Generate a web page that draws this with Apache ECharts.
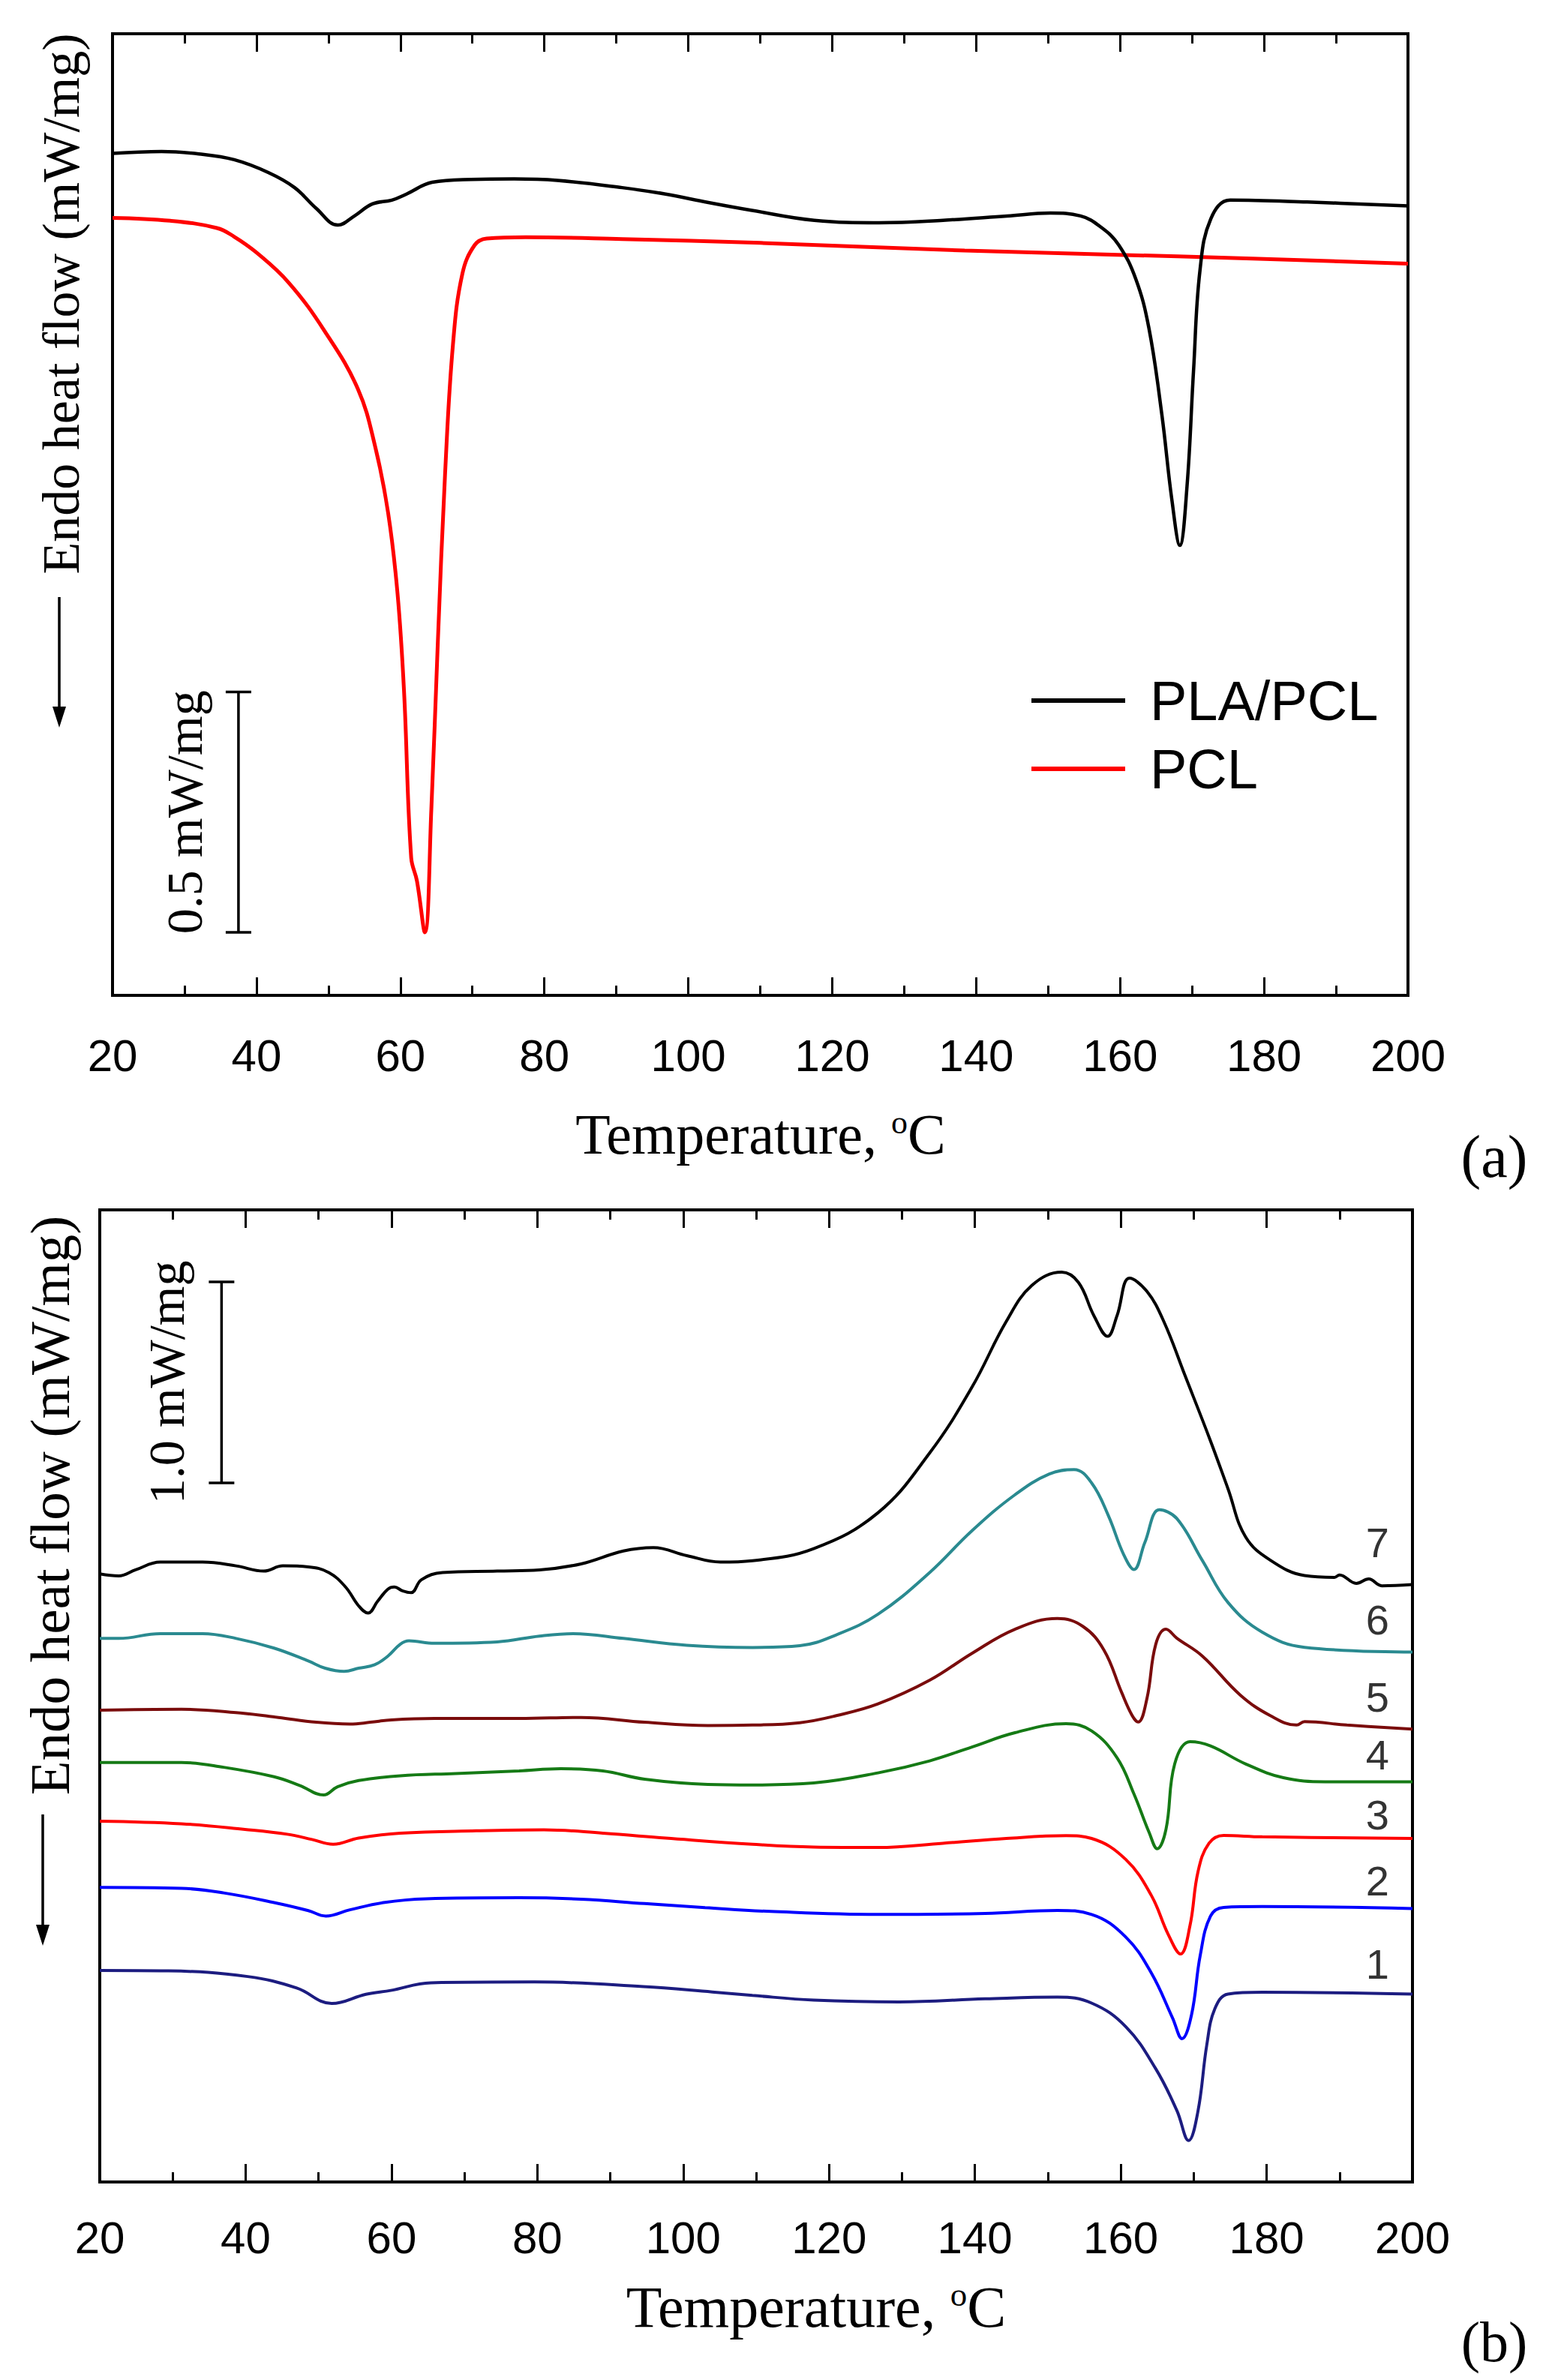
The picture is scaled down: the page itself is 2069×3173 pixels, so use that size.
<!DOCTYPE html>
<html>
<head>
<meta charset="utf-8">
<title>DSC curves</title>
<script src="https://cdn.jsdelivr.net/npm/echarts@6.0.0/dist/echarts.min.js"></script>
<style>
    html, body {margin: 0; padding: 0; background: #fff;}
    #chart {width: 2069px; height: 3173px;}
</style>
</head>
<body>
<div id="chart"></div>
<script>
// temperature axis
const tempMin = 20;
const tempMax = 200;
const tempStep = 20;

// panel (a): heat flow in mW/mg (offset baseline)
const plaPclTemp = [20, 26.8, 32, 36.9, 41.7, 45.3, 48.3, 51.3, 53.7, 56.1, 58.8, 60.9, 64.4, 69.8, 75.8, 81.8, 90.8, 96.7, 102.8, 108.7,
    117.5, 126.5, 135.4, 144.3, 150.3, 154.5, 157.4, 159.8, 162.2, 164, 165.8, 167.2, 168.3, 169.3, 170.2, 171.1, 172.6, 175.3, 186, 200];
const plaPclFlow = [1.751, 1.755, 1.750, 1.738, 1.711, 1.680, 1.637, 1.602, 1.622, 1.646, 1.654, 1.667, 1.691, 1.697, 1.698, 1.695, 1.680, 1.667, 1.649, 1.633,
    1.612, 1.607, 1.612, 1.621, 1.627, 1.621, 1.597, 1.561, 1.489, 1.388, 1.208, 1.030, 0.936, 1.059, 1.298, 1.508, 1.615, 1.654, 1.650, 1.642];

const pclTemp = [20, 28, 34.5, 36.9, 40, 44.5, 49.5, 54.1, 56.5, 58.3, 59.6, 60.5, 61.5, 62.3, 63.4, 64.3, 65.2, 66.2, 67.3, 68.6,
    70.3, 72, 77.4, 90.8, 110, 138.4, 168, 200];
const pclFlow = [1.617, 1.611, 1.596, 1.578, 1.545, 1.482, 1.381, 1.261, 1.141, 1.003, 0.836, 0.634, 0.286, 0.238, 0.131, 0.387, 0.734, 1.082, 1.353, 1.500,
    1.560, 1.574, 1.577, 1.573, 1.565, 1.549, 1.537, 1.522];

const namesA = ['PLA/PCL', 'PCL'];
const scaleBarA = [37.5, 0.131, 0.631];   // 0.5 mW/mg

// panel (b): curves 1..7
const b1Temp = [20, 29.4, 40.3, 47, 51.8, 56.5, 59.9, 65.4, 79.6, 94.5, 104, 109.5, 117.9, 129.6, 141.4, 151.3, 156, 160.7, 164.8, 167.7,
    169.3, 170.6, 171.8, 172.9, 174.7, 179.4, 200];
const b1Flow = [1.052, 1.050, 1.022, 0.965, 0.888, 0.934, 0.953, 0.991, 0.995, 0.972, 0.945, 0.928, 0.905, 0.896, 0.911, 0.920, 0.890, 0.772, 0.563, 0.355,
    0.206, 0.355, 0.683, 0.862, 0.935, 0.944, 0.935];

const b2Temp = [20, 31.2, 37, 43.9, 48.6, 51, 54.3, 58.9, 64.7, 77.5, 86, 94.7, 103, 112, 126.7, 141.4, 151.3, 156, 160.7, 164.2, 167.1,
    168.4, 169.7, 170.9, 172.3, 174.1, 179.4, 200];
const b2Flow = [1.466, 1.461, 1.438, 1.390, 1.350, 1.323, 1.354, 1.390, 1.409, 1.414, 1.407, 1.385, 1.365, 1.346, 1.331, 1.336, 1.351, 1.331, 1.218, 1.039, 0.816,
    0.713, 0.831, 1.128, 1.322, 1.366, 1.370, 1.360];

const b3Temp = [20, 31.2, 39.9, 45.7, 49.1, 52, 55.5, 61.2, 71.6, 80.9, 89, 97.6, 109.5, 117.9, 126.7, 135.6, 144.3, 152.5, 156, 160.7,
    164.2, 166.5, 168.2, 169.5, 170.6, 172.1, 174.1, 179.4, 200];
const b3Flow = [1.795, 1.782, 1.754, 1.730, 1.704, 1.680, 1.711, 1.735, 1.747, 1.752, 1.735, 1.711, 1.680, 1.666, 1.664, 1.685, 1.709, 1.723, 1.709, 1.604,
    1.425, 1.232, 1.134, 1.277, 1.545, 1.685, 1.724, 1.717, 1.709];

const b4Temp = [20, 31.2, 37, 43.9, 47.4, 50.7, 52.6, 55.5, 61.2, 68.8, 77.5, 83.2, 89, 94.7, 103.4, 109.5, 117.9, 126.7, 133.8, 139.6,
    145.5, 152.5, 156, 159.5, 161.8, 163.9, 165, 166.2, 167.4, 169.5, 172.3, 177.1, 182.3, 188, 200];
const b4Flow = [2.087, 2.087, 2.063, 2.016, 1.973, 1.925, 1.966, 1.997, 2.021, 2.032, 2.045, 2.056, 2.045, 2.004, 1.978, 1.975, 1.985, 2.035, 2.095, 2.164,
    2.235, 2.280, 2.244, 2.110, 1.931, 1.738, 1.658, 1.754, 2.080, 2.190, 2.169, 2.080, 2.011, 1.991, 1.991];

const b5Temp = [20, 31.2, 38.7, 44.5, 49.7, 54.3, 57.1, 60, 65.9, 77.5, 86, 94.7, 103.4, 109.5, 116, 121, 126.7, 133.8, 139.6, 145.5, 151.3,
    154.8, 157.7, 160.1, 161.6, 162.4, 163.6, 164.8, 166.2, 167.7, 171.2, 176.4, 180.6, 184.1, 185.2, 191, 200];
const b5Flow = [2.347, 2.352, 2.335, 2.311, 2.287, 2.278, 2.287, 2.299, 2.306, 2.306, 2.311, 2.287, 2.271, 2.273, 2.285, 2.320, 2.378, 2.496, 2.630, 2.750, 2.803,
    2.764, 2.646, 2.437, 2.318, 2.288, 2.407, 2.675, 2.750, 2.705, 2.616, 2.422, 2.318, 2.273, 2.290, 2.273, 2.253];

const b6Temp = [20, 22.6, 28.3, 34.1, 38.7, 43.9, 48.6, 50.9, 53.5, 55.5, 57.7, 59.5, 61.2, 62.4, 65.9, 74.5, 80.3, 84.9, 91.8, 100.5,
    109.5, 116, 121, 126.7, 133.8, 139.6, 145.5, 150.2, 153.6, 156, 158.3, 160.4, 161.8, 163.3, 165.3, 167.7, 171.2, 174.7, 179.4, 185.2, 200];
const b6Flow = [2.704, 2.704, 2.728, 2.728, 2.704, 2.656, 2.592, 2.556, 2.540, 2.556, 2.573, 2.616, 2.675, 2.692, 2.680, 2.687, 2.716, 2.728, 2.704, 2.670,
    2.659, 2.668, 2.722, 2.824, 3.032, 3.240, 3.419, 3.522, 3.544, 3.478, 3.315, 3.121, 3.047, 3.181, 3.344, 3.300, 3.091, 2.883, 2.735, 2.660, 2.636];

const b7Temp = [20, 22.6, 24.9, 28.3, 34.1, 38.7, 42.5, 45.1, 48.6, 51.4, 53.7, 55.5, 56.8, 58.1, 59.5, 60.4, 61.5, 62.7, 64.1, 67,
    74.5, 80.3, 86, 91.8, 95.9, 100.5, 105.1, 109.5, 117.9, 126.7, 133.8, 139.6, 144.3, 147.8, 151.9, 154.2, 156.3, 158.2, 159.5, 161.2,
    163.6, 165.9, 168.8, 172.3, 174.7, 177.1, 180.6, 185.2, 189.3, 190, 192.3, 194, 195.8, 200];
const b7Flow = [3.025, 3.015, 3.045, 3.084, 3.084, 3.065, 3.039, 3.065, 3.060, 3.032, 2.960, 2.866, 2.830, 2.889, 2.949, 2.960, 2.941, 2.932, 2.996, 3.032,
    3.039, 3.045, 3.075, 3.139, 3.156, 3.116, 3.084, 3.091, 3.151, 3.329, 3.627, 3.954, 4.281, 4.460, 4.526, 4.475, 4.311, 4.207, 4.311, 4.496,
    4.430, 4.281, 4.013, 3.687, 3.449, 3.210, 3.091, 3.017, 3.008, 3.020, 2.978, 3.000, 2.966, 2.972];

const namesB = ['1', '2', '3', '4', '5', '6', '7'];
const labelTempB = 195.2;
const labelFlowB = [1.084, 1.500, 1.828, 2.125, 2.414, 2.795, 3.182];
const scaleBarB = [36.7, 3.478, 4.478];   // 1.0 mW/mg

const tempsB = [b1Temp, b2Temp, b3Temp, b4Temp, b5Temp, b6Temp, b7Temp];
const flowsB = [b1Flow, b2Flow, b3Flow, b4Flow, b5Flow, b6Flow, b7Flow];

const colorsA = ['#000000', '#ff0000'];
const colorsB = ['#1c1c80', '#0000ff', '#ff0000', '#157a15', '#7a0c0c', '#2a8a90', '#000000'];

const serif = '"Liberation Serif", "DejaVu Serif", serif';
const sans = '"Liberation Sans", Arial, sans-serif';

const pair = (t, v) => t.map((x, i) => [x, v[i]]);

function xAxes(gridIndex, margin) {
    const common = {
        type: 'value', gridIndex: gridIndex, min: tempMin, max: tempMax, interval: tempStep,
        axisLine: {show: false},
        axisTick: {show: true, inside: true, length: 24, lineStyle: {color: '#000', width: 3}},
        minorTick: {show: true, splitNumber: 2, length: 13, lineStyle: {color: '#000', width: 3}},
        splitLine: {show: false}
    };
    return [
        Object.assign({}, common, {
            position: 'bottom',
            axisLabel: {show: true, margin: margin, fontSize: 60, fontFamily: sans, color: '#000'}
        }),
        Object.assign({}, common, {position: 'top', axisLabel: {show: false}})
    ];
}

function yAxis(gridIndex, max) {
    return {
        type: 'value', gridIndex: gridIndex, min: 0, max: max,
        axisLine: {show: false}, axisTick: {show: false}, axisLabel: {show: false}, splitLine: {show: false}
    };
}

function scaleBar(label, offset) {
    return function (params, api) {
        const lo = api.coord([api.value(0), api.value(1)]);
        const hi = api.coord([api.value(0), api.value(2)]);
        const cap = 17;
        const ls = {stroke: '#000', lineWidth: 3.5};
        return {
            type: 'group',
            children: [
                {type: 'line', shape: {x1: lo[0], y1: lo[1], x2: hi[0], y2: hi[1]}, style: ls},
                {type: 'line', shape: {x1: lo[0] - cap, y1: lo[1], x2: lo[0] + cap, y2: lo[1]}, style: ls},
                {type: 'line', shape: {x1: hi[0] - cap, y1: hi[1], x2: hi[0] + cap, y2: hi[1]}, style: ls},
                {
                    type: 'text', x: lo[0] - offset, y: (lo[1] + hi[1]) / 2, rotation: Math.PI / 2,
                    style: {text: label, fontSize: 68, fontFamily: serif, fill: '#000', align: 'center', verticalAlign: 'middle'}
                }
            ]
        };
    };
}

function arrow(x, y1, y2) {
    return {
        type: 'group',
        children: [
            {type: 'line', shape: {x1: x, y1: y1, x2: x, y2: y2 - 20}, style: {stroke: '#000', lineWidth: 3.5}},
            {type: 'polygon', shape: {points: [[x - 9, y2 - 28], [x + 9, y2 - 28], [x, y2]]}, style: {fill: '#000'}}
        ]
    };
}

function titleText(x, y, text, size, rotation) {
    return {
        type: 'text', x: x, y: y, rotation: rotation || 0,
        style: {
            text: text, fontSize: size, fontFamily: serif, fill: '#000', align: 'center', verticalAlign: 'middle',
            rich: {s: {fontSize: Math.round(size * 0.58), fontFamily: serif, verticalAlign: 'top', fill: '#000'}}
        }
    };
}

const series = [];
series.push({
    name: namesA[0], type: 'line', xAxisIndex: 0, yAxisIndex: 0, showSymbol: false, smooth: 0.4,
    itemStyle: {color: colorsA[0]}, lineStyle: {color: colorsA[0], width: 4.5}, data: pair(plaPclTemp, plaPclFlow), z: 3
});
series.push({
    name: namesA[1], type: 'line', xAxisIndex: 0, yAxisIndex: 0, showSymbol: false, smooth: 0.4,
    itemStyle: {color: colorsA[1]}, lineStyle: {color: colorsA[1], width: 5}, data: pair(pclTemp, pclFlow), z: 2
});
series.push({
    type: 'custom', xAxisIndex: 0, yAxisIndex: 0, silent: true,
    renderItem: scaleBar('0.5 mW/mg', 72), data: [scaleBarA]
});

namesB.forEach((n, i) => {
    series.push({
        name: n, type: 'line', xAxisIndex: 2, yAxisIndex: 1, showSymbol: false, smooth: 0.4,
        itemStyle: {color: colorsB[i]}, lineStyle: {color: colorsB[i], width: 4}, data: pair(tempsB[i], flowsB[i])
    });
});
series.push({
    type: 'scatter', xAxisIndex: 2, yAxisIndex: 1, silent: true, symbolSize: 0,
    label: {show: true, position: 'inside', formatter: '{b}', fontSize: 56, fontFamily: sans, color: '#000'},
    data: namesB.map((n, i) => ({name: n, value: [labelTempB, labelFlowB[i]]}))
});
series.push({
    type: 'custom', xAxisIndex: 2, yAxisIndex: 1, silent: true,
    renderItem: scaleBar('1.0 mW/mg', 73), data: [scaleBarB]
});

const chart = echarts.init(document.getElementById('chart'), null, {renderer: 'svg'});
chart.setOption({
    backgroundColor: '#fff',
    animation: false,
    grid: [
        {left: 150, top: 45, width: 1727, height: 1282, show: true, borderColor: '#000', borderWidth: 4, backgroundColor: 'transparent'},
        {left: 133, top: 1613, width: 1750, height: 1296, show: true, borderColor: '#000', borderWidth: 4, backgroundColor: 'transparent'}
    ],
    xAxis: xAxes(0, 50).concat(xAxes(1, 44)),
    yAxis: [yAxis(0, 2.0), yAxis(1, 4.836)],
    legend: {
        data: namesA, orient: 'vertical', left: 1370, top: 889, icon: 'rect',
        itemWidth: 125, itemHeight: 6, itemGap: 11, selectedMode: false,
        textStyle: {fontSize: 74, lineHeight: 80, fontFamily: sans, color: '#000', padding: [0, 0, 0, 28]}
    },
    graphic: [
        titleText(81, 405, 'Endo heat flow (mW/mg)', 70, Math.PI / 2),
        arrow(79, 796, 970),
        titleText(1014, 1512, 'Temperature, {s|o}C', 76),
        titleText(1992, 1542, '(a)', 80),
        titleText(66, 2007, 'Endo heat flow (mW/mg)', 75, Math.PI / 2),
        arrow(57, 2419, 2594),
        titleText(1088, 3075, 'Temperature, {s|o}C', 78),
        titleText(1992, 3122, '(b)', 76)
    ],
    series: series
});
</script>
</body>
</html>
